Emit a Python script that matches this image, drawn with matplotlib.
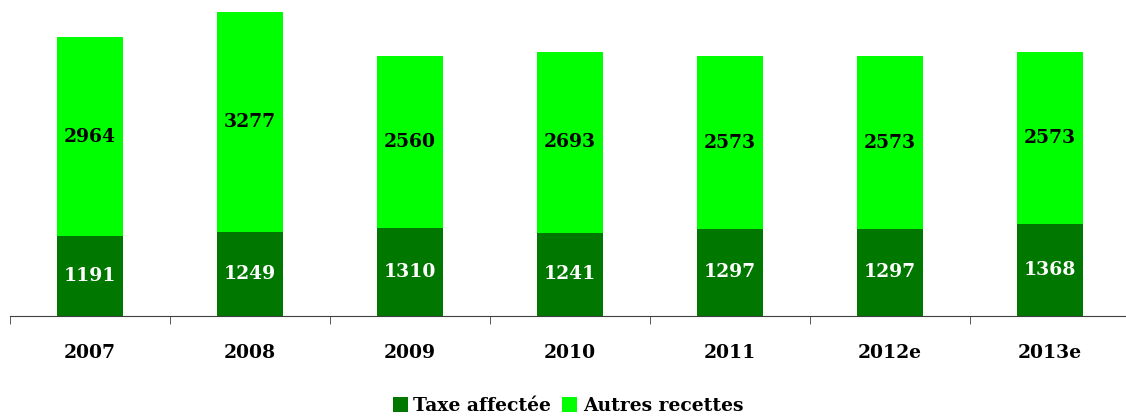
import matplotlib.pyplot as plt
import numpy as np

years = ["2007", "2008", "2009", "2010", "2011", "2012e", "2013e"]
taxe_affectee = [1191, 1249, 1310, 1241, 1297, 1297, 1368]
autres_recettes = [2964, 3277, 2560, 2693, 2573, 2573, 2573]

dark_green = "#007800"
light_green = "#00ff00"
font = "DejaVu Serif"

fig = plt.figure(figsize=(11.26, 4.16), dpi=100)
ax = fig.add_axes([10 / 1126, 100 / 416, 1120 / 1126, 316 / 416])

x = np.arange(len(years))
w = 0.41
ax.bar(x, taxe_affectee, w, color=dark_green, label="Taxe affectée")
ax.bar(x, autres_recettes, w, bottom=taxe_affectee, color=light_green,
       label="Autres recettes")

# value labels in the middle of each segment
for i in range(len(years)):
    ax.text(x[i], taxe_affectee[i] / 2, str(taxe_affectee[i]), ha="center",
            va="center", color="white", fontsize=13.5, fontweight="bold",
            family=font)
    ax.text(x[i], taxe_affectee[i] + autres_recettes[i] / 2,
            str(autres_recettes[i]), ha="center", va="center", color="black",
            fontsize=13.5, fontweight="bold", family=font)

ax.set_xlim(-0.5, len(years) - 0.5)
ax.set_ylim(0, 4710)
ax.set_xticks(x)
ax.set_xticklabels(years, fontsize=13.5, fontweight="bold", family=font)
ax.tick_params(axis="x", which="major", length=0, pad=20)
ax.set_xticks(np.arange(len(years) + 1) - 0.5, minor=True)
ax.tick_params(axis="x", which="minor", length=6, color="#404040",
               direction="out")
ax.set_yticks([])
for side in ["top", "left", "right"]:
    ax.spines[side].set_visible(False)
ax.spines["bottom"].set_color("#404040")

fig.legend(loc="center", bbox_to_anchor=(568 / 1126, 10 / 416), ncol=2,
           frameon=False, handlelength=0.8, handleheight=0.8,
           handletextpad=0.3, columnspacing=0.6,
           prop={"family": font, "weight": "bold", "size": 13.5})

fig.savefig("out.png", dpi=100)
